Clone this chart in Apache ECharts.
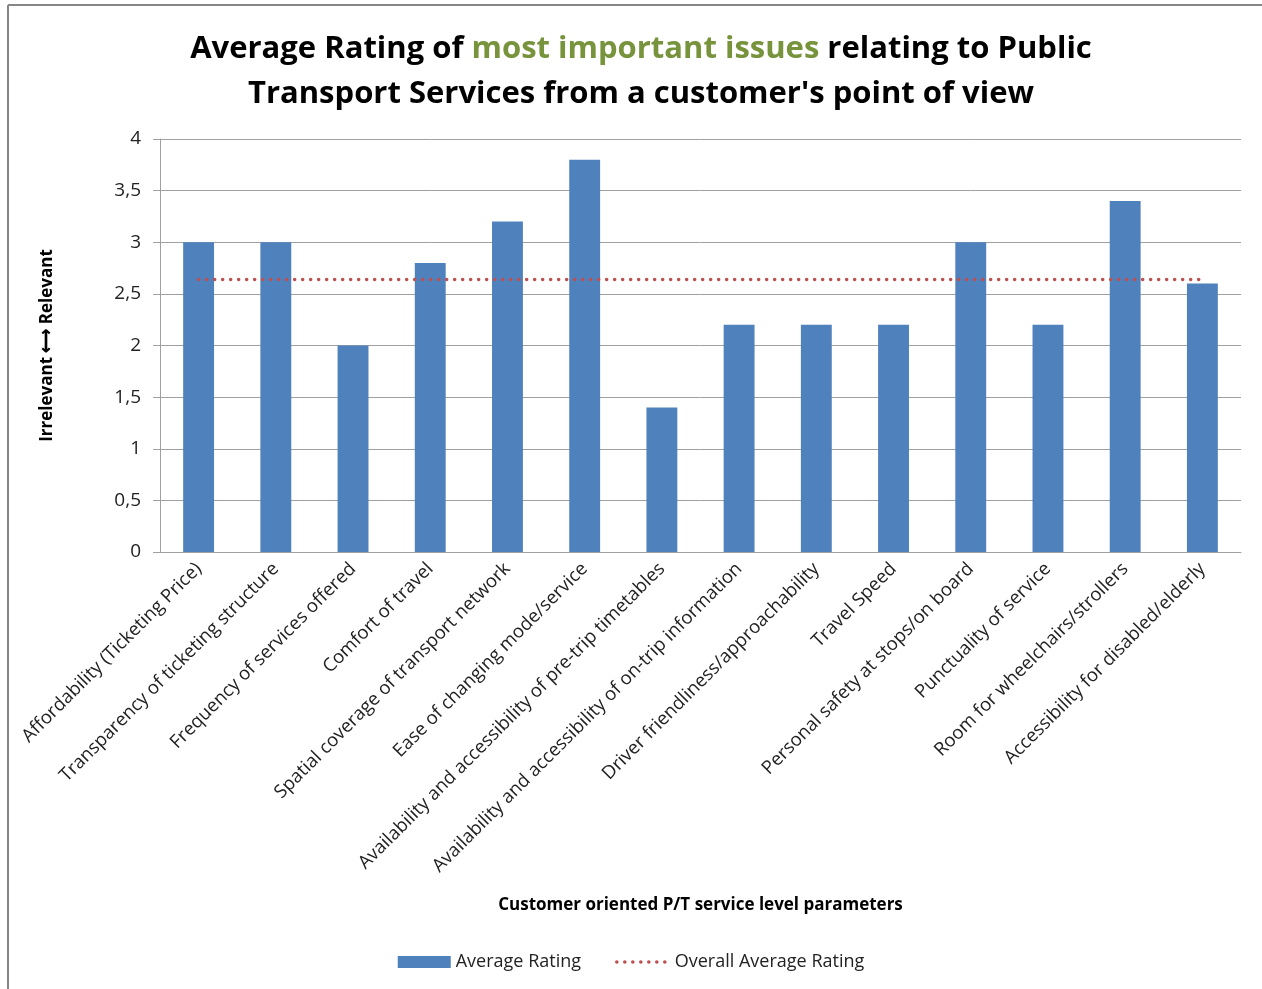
<!DOCTYPE html>
<html>
<head>
<meta charset="utf-8">
<script src="https://cdn.jsdelivr.net/npm/echarts@6/dist/echarts.min.js"></script>
<style>
  html, body { margin: 0; padding: 0; background: #fff; }
  #chart { width: 1262px; height: 989px; }
</style>
</head>
<body>
<div id="chart"></div>
<script>
// categories (service level parameters)
var categories = [
    'Affordability (Ticketing Price)',
    'Transparency of ticketing structure',
    'Frequency of services offered',
    'Comfort of travel',
    'Spatial coverage of transport network',
    'Ease of changing mode/service',
    'Availability and accessibility of pre-trip timetables',
    'Availability and accessibility of on-trip information',
    'Driver friendliness/approachability',
    'Travel Speed',
    'Personal safety at stops/on board',
    'Punctuality of service',
    'Room for wheelchairs/strollers',
    'Accessibility for disabled/elderly'
];
// average rating per parameter
var avgRating = [3, 3, 2, 2.8, 3.2, 3.8, 1.4, 2.2, 2.2, 2.2, 3, 2.2, 3.4, 2.6];
// overall average (dotted line)
var overallAvg = [2.64, 2.64, 2.64, 2.64, 2.64, 2.64, 2.64, 2.64, 2.64, 2.64, 2.64, 2.64, 2.64, 2.64];
var yTicks = [0, 0.5, 1, 1.5, 2, 2.5, 3, 3.5, 4];

var chart = echarts.init(document.getElementById('chart'));
var font = 'Open Sans';
var dots = { color: '#C0504D', width: 3.5, type: [0.1, 7.9], cap: 'round' };

chart.setOption({
    backgroundColor: '#fff',
    animation: false,
    title: {
        left: 636,
        top: 22,
        textAlign: 'center',
        text: '{a|Average Rating of }{g|most important issues}{a| relating to Public}\n{a|Transport Services from a customer\'s point of view}',
        textStyle: {
            rich: {
                a: { fontFamily: font, fontSize: 31, fontWeight: 'bold', color: '#000', lineHeight: 45 },
                g: { fontFamily: font, fontSize: 31, fontWeight: 'bold', color: '#77933C', lineHeight: 45 }
            }
        }
    },
    graphic: [
        { type: 'line', shape: { x1: 8, y1: 5, x2: 1262, y2: 5 }, style: { stroke: '#868686', lineWidth: 2 } },
        { type: 'line', shape: { x1: 8, y1: 5, x2: 8, y2: 989 }, style: { stroke: '#868686', lineWidth: 2 } }
    ],
    legend: {
        bottom: 13,
        left: 'center',
        itemGap: 34,
        itemWidth: 53,
        itemHeight: 12,
        textStyle: { fontFamily: font, fontSize: 18, color: '#222' },
        data: [
            { name: 'Average Rating', icon: 'rect' },
            { name: 'Overall Average Rating', itemStyle: { color: 'rgba(0,0,0,0)', borderWidth: 0 }, lineStyle: dots }
        ]
    },
    grid: { left: 160, right: 21, top: 139, bottom: 437 },
    xAxis: {
        type: 'category',
        data: categories,
        name: 'Customer oriented P/T service level parameters',
        nameLocation: 'middle',
        nameGap: 345,
        nameTextStyle: { fontFamily: font, fontSize: 17, fontWeight: 'bold', color: '#000' },
        axisLine: { lineStyle: { color: '#a0a0a0', width: 1 } },
        axisTick: { show: false },
        axisLabel: {
            interval: 0,
            rotate: 45,
            margin: 14,
            fontFamily: font,
            fontSize: 18.5,
            color: '#222'
        }
    },
    yAxis: {
        type: 'value',
        min: 0,
        max: 4,
        interval: 0.5,
        name: 'Irrelevant \u27F7 Relevant',
        nameLocation: 'middle',
        nameGap: 104,
        nameTextStyle: { fontFamily: font, fontSize: 17, fontWeight: 'bold', color: '#000' },
        axisLine: { show: true, lineStyle: { color: '#a0a0a0' } },
        axisTick: { show: true, length: 7, lineStyle: { color: '#a0a0a0' } },
        splitLine: { lineStyle: { color: '#a0a0a0' } },
        axisLabel: {
            margin: 19,
            fontFamily: font,
            fontSize: 19,
            color: '#222',
            formatter: function (v) {
                return yTicks.indexOf(v) >= 0 ? String(v).replace('.', ',') : '';
            }
        }
    },
    series: [
        {
            name: 'Average Rating',
            type: 'bar',
            data: avgRating,
            barWidth: '40%',
            itemStyle: { color: '#4F81BD' }
        },
        {
            name: 'Overall Average Rating',
            type: 'line',
            data: overallAvg,
            symbol: 'none',
            lineStyle: dots,
            itemStyle: { color: '#C0504D' }
        }
    ]
});
</script>
</body>
</html>
